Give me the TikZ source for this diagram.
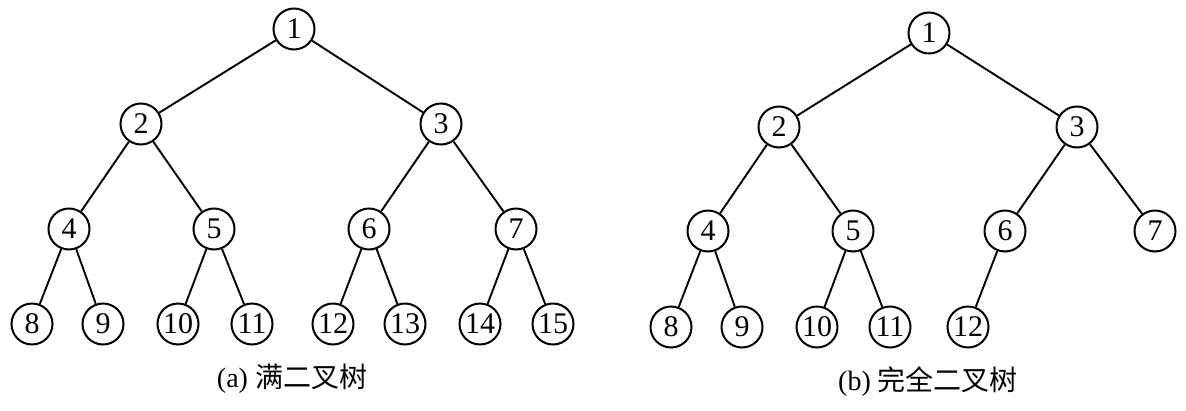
\documentclass[tikz,border=0pt]{standalone}
\usepackage{fontspec}
\setmainfont{Liberation Serif}
\newfontfamily\cjk{Noto Sans CJK SC}
\begin{document}
\begin{tikzpicture}[x=1pt,y=-1pt,
  nd/.style={circle,draw,line width=2pt,minimum size=41pt,inner sep=0pt,font=\fontsize{30}{30}\selectfont},
  ed/.style={line width=1.9pt},
  captxt/.style={font=\fontsize{28}{28}\selectfont}]
\useasboundingbox (0,0) rectangle (1186,410);
% tree a
\node[nd] (a1) at (294,29) {1};
\node[nd] (a2) at (141,124) {2};
\node[nd] (a3) at (441,124) {3};
\node[nd] (a4) at (69,229) {4};
\node[nd] (a5) at (214,229) {5};
\node[nd] (a6) at (369,229) {6};
\node[nd] (a7) at (516,229) {7};
\node[nd] (a8) at (32,324) {8};
\node[nd] (a9) at (103,324) {9};
\node[nd] (a10) at (178,324) {10};
\node[nd] (a11) at (252,324) {11};
\node[nd] (a12) at (333,324) {12};
\node[nd] (a13) at (405,324) {13};
\node[nd] (a14) at (480,324) {14};
\node[nd] (a15) at (553,324) {15};
\draw[ed] (a1)--(a2) (a1)--(a3) (a2)--(a4) (a2)--(a5) (a3)--(a6) (a3)--(a7)
  (a4)--(a8) (a4)--(a9) (a5)--(a10) (a5)--(a11) (a6)--(a12) (a6)--(a13) (a7)--(a14) (a7)--(a15);
\node[captxt] (ca) at (292,379) {(a) {\cjk 满二叉树}};
% tree b
\node[nd] (b1) at (929,33) {1};
\node[nd] (b2) at (779,127) {2};
\node[nd] (b3) at (1077,127) {3};
\node[nd] (b4) at (708,231) {4};
\node[nd] (b5) at (853,231) {5};
\node[nd] (b6) at (1005,231) {6};
\node[nd] (b7) at (1155,231) {7};
\node[nd] (b8) at (671,327) {8};
\node[nd] (b9) at (742,327) {9};
\node[nd] (b10) at (817,327) {10};
\node[nd] (b11) at (890,327) {11};
\node[nd] (b12) at (968,327) {12};
\draw[ed] (b1)--(b2) (b1)--(b3) (b2)--(b4) (b2)--(b5) (b3)--(b6) (b3)--(b7)
  (b4)--(b8) (b4)--(b9) (b5)--(b10) (b5)--(b11) (b6)--(b12);
\node[captxt] (cb) at (928,382) {(b) {\cjk 完全二叉树}};
\end{tikzpicture}
\end{document}
